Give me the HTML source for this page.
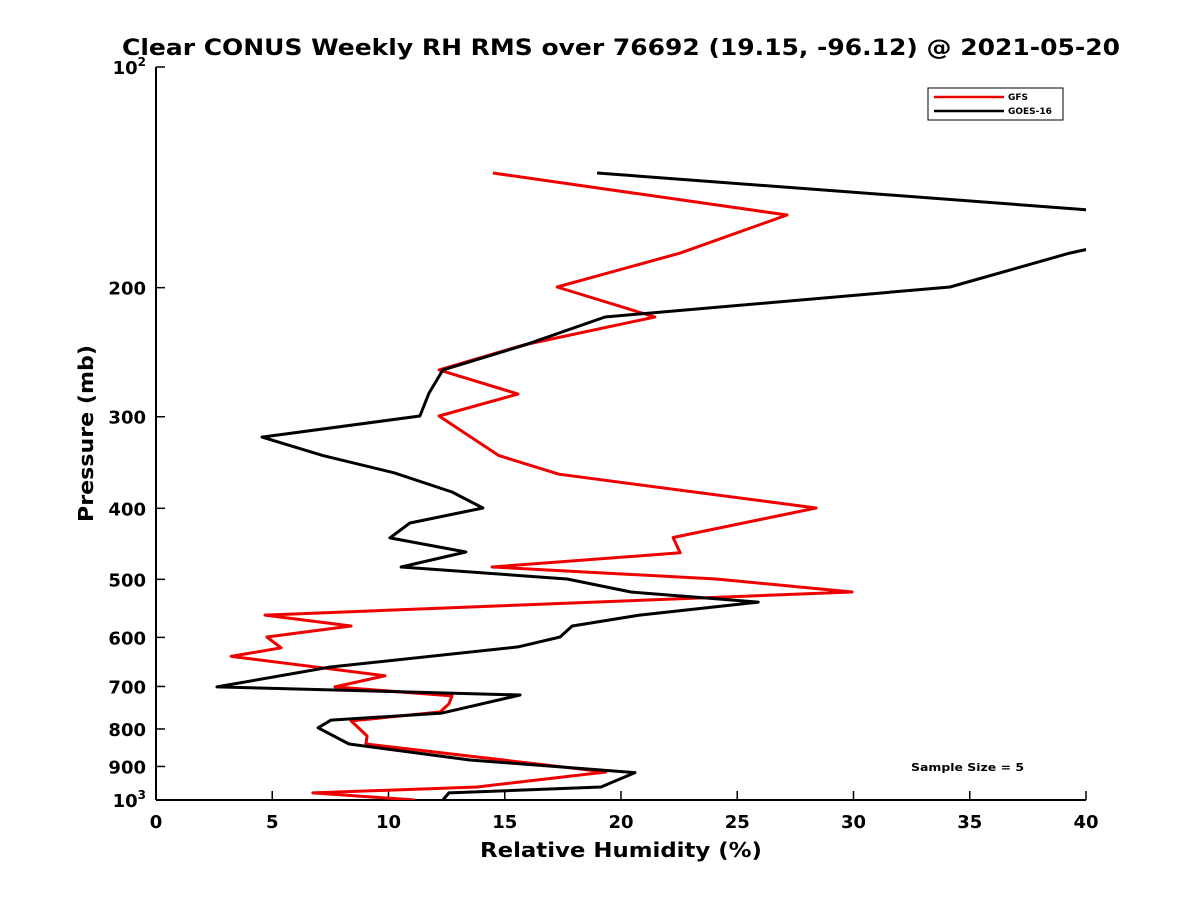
<!DOCTYPE html>
<html><head><meta charset="utf-8"><style>
body{margin:0;background:#fff;font-family:"DejaVu Sans",sans-serif}
</style></head><body>
<svg id="chart" width="1200" height="900" xmlns="http://www.w3.org/2000/svg" font-family="DejaVu Sans, sans-serif">
<rect width="1200" height="900" fill="#fff"/>
<text x="122" y="55" font-size="22" font-weight="bold" textLength="998" lengthAdjust="spacingAndGlyphs">Clear CONUS Weekly RH RMS over 76692 (19.15, -96.12) @ 2021-05-20</text>
<defs><clipPath id="clip"><rect x="156" y="67" width="930" height="733"/></clipPath></defs>
<g id="axes"></g>
<g id="series" clip-path="url(#clip)"></g>
<text x="480" y="857" font-size="20" font-weight="bold" textLength="282" lengthAdjust="spacingAndGlyphs">Relative Humidity (%)</text>
<text transform="translate(93,522) rotate(-90)" font-size="20" font-weight="bold" textLength="177" lengthAdjust="spacingAndGlyphs">Pressure (mb)</text>
<g>
<rect x="928" y="88" width="135" height="32" fill="#fff" stroke="#000" stroke-width="1"/>
<line x1="934" y1="97" x2="1004" y2="97" stroke="#e00" stroke-width="2.5"/>
<text x="1008" y="100" font-size="9" font-weight="bold">GFS</text>
<line x1="934" y1="111" x2="1004" y2="111" stroke="#000" stroke-width="2.5"/>
<text x="1008" y="114" font-size="9" font-weight="bold">GOES-16</text>
</g>
<text x="911" y="771" font-size="11" font-weight="bold" textLength="113" lengthAdjust="spacingAndGlyphs">Sample Size = 5</text>
</svg>
<script>
const xTicks=[0,5,10,15,20,25,30,35,40];
const yTicks=[100,200,300,400,500,600,700,800,900,1000];
const gfsPressure=[139.5,159.2,179.4,199.6,219.3,239.4,259,279.3,299.3,339,359.3,399.6,438.4,460,481,499.5,520.3,559.4,579,599.3,620,637,677,701,721,739.5,758.6,780,818,838.8,915.9,960,978,1000];
const gfsRH=[14.49,27.14,22.54,17.25,21.46,15.83,12.17,15.57,12.17,14.75,17.33,28.39,22.24,22.54,14.45,24.09,29.94,4.69,8.39,4.77,5.38,3.23,9.85,7.7,12.73,12.6,12.22,8.39,9.08,9.03,19.35,13.8,6.75,11.14];
const goesPressure=[139.5,157,176,179.4,199.6,219.3,239.4,259,278.5,299.3,319.8,339,357.8,380,399.6,418.9,439,458.9,481,499.5,520.3,537,559.4,579,599.3,618.3,658.6,701,719,761,778,797,838.8,882,917.5,960,978,1000];
const goesRH=[18.97,40.5,40.5,39.3,34.15,19.31,15.87,12.34,11.74,11.35,4.56,7.18,10.24,12.73,14.06,10.92,10.06,13.33,10.54,17.68,20.43,25.9,20.8,17.9,17.38,15.57,7.5,2.62,15.66,12.3,7.53,6.97,8.3,13.5,20.6,19.14,12.6,12.34];
const X0=156,X1=1086,Y0=67,Y1=800;
const xs=v=>X0+(v-0)/40*(X1-X0);
const ys=p=>Y0+(Math.log10(p)-2)*(Y1-Y0);
const NS='http://www.w3.org/2000/svg';
function mk(t,a,parent){const e=document.createElementNS(NS,t);for(const k in a)e.setAttribute(k,a[k]);parent.appendChild(e);return e;}
const axes=document.getElementById('axes');
const xl=mk('line',{x1:X0,y1:Y1,x2:X1,y2:Y1,stroke:'#000','stroke-width':2},axes);


const yl=mk('line',{x1:X0,y1:Y0,x2:X0,y2:Y1,stroke:'#000','stroke-width':2},axes);


xTicks.forEach(v=>{
 mk('line',{x1:xs(v),y1:Y1,x2:xs(v),y2:Y1-9,stroke:'#000','stroke-width':1.5},axes);
 const t=mk('text',{x:xs(v),y:828,'text-anchor':'middle','font-size':18,'font-weight':'bold'},axes);
 t.textContent=v;
 
 
});
yTicks.forEach(p=>{
 mk('line',{x1:X0,y1:ys(p),x2:X0+9,y2:ys(p),stroke:'#000','stroke-width':1.5},axes);
 const t=mk('text',{x:X0-10,y:ys(p)+7,'text-anchor':'end','font-size':18,'font-weight':'bold'},axes);
 if(p===100||p===1000){t.textContent='10';const s=mk('tspan',{dy:-8,'font-size':12},t);s.textContent=p===100?'2':'3';}
 else t.textContent=p;
 
 
});
const ser=document.getElementById('series');
function line(P,V,c,name){
 const pts=P.map((p,i)=>xs(V[i]).toFixed(1)+','+ys(p).toFixed(1)).join(' ');
 const l=mk('polyline',{points:pts,fill:'none',stroke:c,'stroke-width':3,'stroke-linejoin':'round'},ser);
 
 
}
line(gfsPressure,gfsRH,'#e00','gfs-line');
line(goesPressure,goesRH,'#000','goes16-line');
</script>
</body></html>
